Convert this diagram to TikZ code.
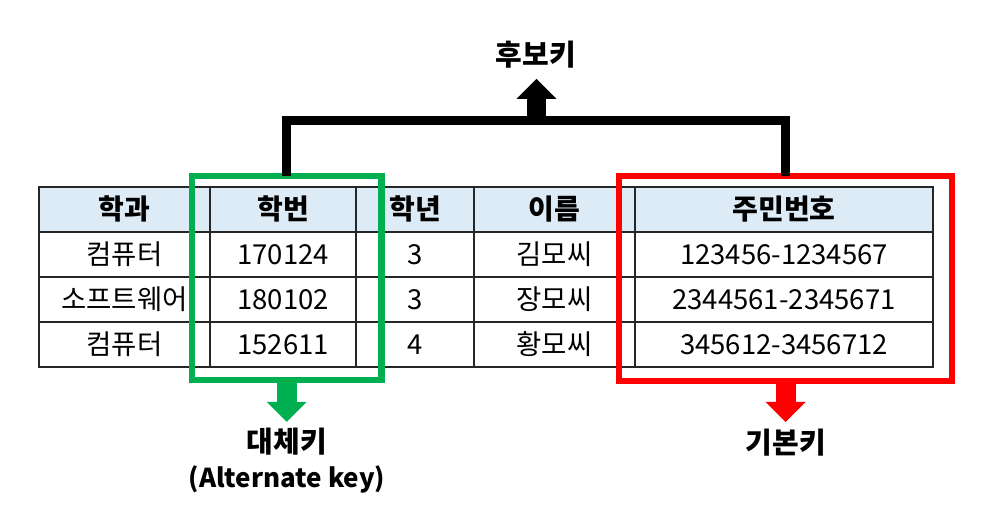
\documentclass[tikz,border=0pt]{standalone}
\usepackage{fontspec}
\usepackage{xcolor}
\usepackage{tikz}
\usetikzlibrary{positioning,arrows.meta}
\newfontfamily\krfont{Noto Sans CJK KR}
\definecolor{keygreen}{RGB}{0,176,80}
\definecolor{keyred}{RGB}{255,0,0}
\definecolor{headblue}{RGB}{221,235,247}

\begin{document}
\begin{tikzpicture}[x=1pt, y=1pt,
    cell/.style={draw=black!85, line width=1.3pt, inner sep=0pt, minimum height=45pt,
        text height=22pt, text depth=1pt, font=\krfont\fontsize{27.5}{30}\selectfont},
    headcell/.style={cell, fill=headblue, font=\krfont\bfseries\fontsize{28}{30}\selectfont},
    keybox/.style={draw=#1, line width=6.5pt, inner sep=0pt, outer sep=0pt},
    keyarrow/.style={draw=#1, line width=20pt,
        -{Triangle[length=20pt 0 0, width=40pt 0 0, line width=0pt 0 0]}},
    keylabel/.style={inner sep=0pt, align=center, font=\krfont\bfseries\fontsize{29}{35}\selectfont}]
\useasboundingbox (0,0) rectangle (993,521);

% header row
\node[headcell, minimum width=171pt] (head_0) at (124.5,311.5) {학과};
\node[headcell, minimum width=146pt] (head_1) at (283,311.5) {학번};
\node[headcell, minimum width=118pt] (head_2) at (415,311.5) {학년};
\node[headcell, minimum width=161pt] (head_3) at (554.5,311.5) {이름};
\node[headcell, minimum width=298pt] (head_4) at (784,311.5) {주민번호};

% rows
\node[cell, minimum width=171pt] (row1_0) at (124.5,266.5) {컴퓨터};
\node[cell, minimum width=146pt] (row1_1) at (283,266.5) {170124};
\node[cell, minimum width=118pt] (row1_2) at (415,266.5) {3};
\node[cell, minimum width=161pt] (row1_3) at (554.5,266.5) {김모씨};
\node[cell, minimum width=298pt] (row1_4) at (784,266.5) {123456-1234567};

\node[cell, minimum width=171pt] (row2_0) at (124.5,221.5) {소프트웨어};
\node[cell, minimum width=146pt] (row2_1) at (283,221.5) {180102};
\node[cell, minimum width=118pt] (row2_2) at (415,221.5) {3};
\node[cell, minimum width=161pt] (row2_3) at (554.5,221.5) {장모씨};
\node[cell, minimum width=298pt] (row2_4) at (784,221.5) {2344561-2345671};

\node[cell, minimum width=171pt] (row3_0) at (124.5,176.5) {컴퓨터};
\node[cell, minimum width=146pt] (row3_1) at (283,176.5) {152611};
\node[cell, minimum width=118pt] (row3_2) at (415,176.5) {4};
\node[cell, minimum width=161pt] (row3_3) at (554.5,176.5) {황모씨};
\node[cell, minimum width=298pt] (row3_4) at (784,176.5) {345612-3456712};

% key boxes
\node[keybox=keygreen, minimum width=189.5pt, minimum height=204pt] (altbox) at (286.75,243) {};
\node[keybox=keyred, minimum width=333pt, minimum height=205pt] (pkbox) at (785.5,242.5) {};

% labels
\node[keylabel] (candlabel) at (536,466) {후보키};
\node[keylabel] (altlabel) at (287,60.5) {대체키\\{\fontsize{26}{35}\selectfont(Alternate key)}};
\node[keylabel] (pklabel) at (786,78) {기본키};

\coordinate (bar) at (536.5,400.5);
\coordinate (candtip) at (536.5,442);
\coordinate (alttip) at (altbox.south |- 0,99);
\coordinate (pktip) at (pkbox.south |- 0,99);

\draw[line width=9pt] (altbox.north) |- (bar) -| (pkbox.north);
\draw[keyarrow=black, line width=19pt] (bar) -- (candtip);
\draw[keyarrow=keygreen] (altbox.south) -- (alttip);
\draw[keyarrow=keyred] (pkbox.south) -- (pktip);

\end{tikzpicture}
\end{document}
